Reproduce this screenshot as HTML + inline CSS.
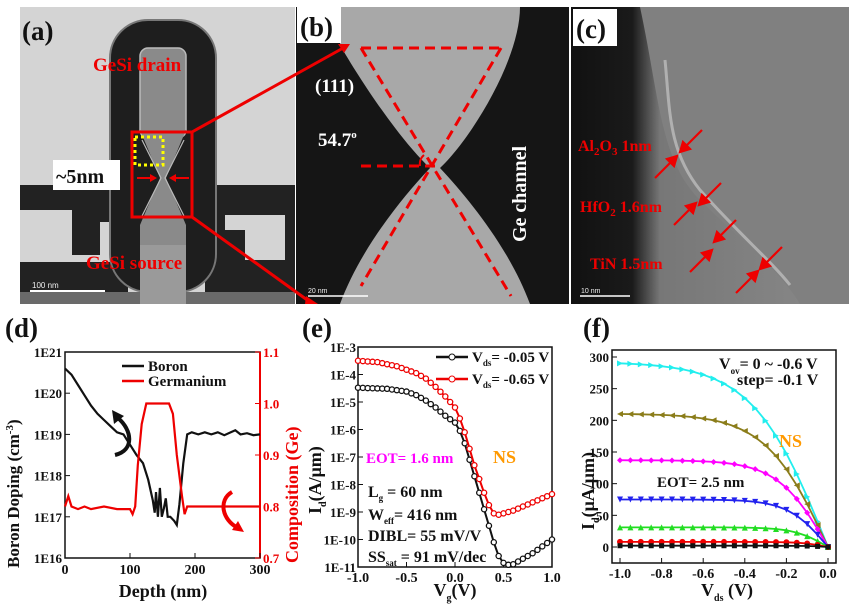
<!DOCTYPE html>
<html><head><meta charset="utf-8"><style>
html,body{margin:0;padding:0;background:#fff;}
svg{display:block;font-family:"Liberation Serif",serif;font-weight:bold;}
</style></head><body>
<svg id="s" width="849" height="604" viewBox="0 0 849 604" xmlns="http://www.w3.org/2000/svg">
<defs>
<linearGradient id="cg" x1="0" x2="1" y1="0" y2="0">
<stop offset="0" stop-color="#111"/><stop offset="0.22" stop-color="#1a1a1a"/><stop offset="0.32" stop-color="#777"/><stop offset="1" stop-color="#8a8a8a"/></linearGradient>
<clipPath id="ca"><rect x="20" y="7" width="275" height="297"/></clipPath>
<clipPath id="cb"><rect x="296" y="7" width="273" height="297"/></clipPath>
<clipPath id="cc"><rect x="571" y="7" width="278" height="297"/></clipPath>
</defs>
<!-- Panel a -->
<g clip-path="url(#ca)">
<rect x="20" y="7" width="275" height="297" fill="#d4d4d4"/>
<path d="M20 185 L128 185 L128 300 L20 300Z" fill="#222"/>
<path d="M205 185 L295 185 L295 300 L205 300Z" fill="#222"/>
<path d="M20 210 L72 210 L72 255 L100 255 L100 222 L112 222 L112 262 L20 262Z" fill="#d4d4d4"/>
<path d="M225 215 L285 215 L285 260 L245 260 L245 230 L225 230Z" fill="#d4d4d4"/>
<rect x="20" y="292" width="275" height="12" fill="#6a6a6a"/>
<rect x="110" y="20" width="106" height="272" rx="38" fill="#1e1e1e" stroke="#777" stroke-width="2"/>
<rect x="140" y="48" width="46" height="90" rx="8" fill="#8a8a8a" stroke="#bbb" stroke-width="1.5"/>
<path d="M140 130 L186 130 L166 178 L186 225 L186 304 L140 304 L140 225 L160 178 L140 130Z" fill="#8a8a8a"/>
<path d="M142 140 L161 178 L142 216 M184 140 L165 178 L184 216" stroke="#bbb" stroke-width="1.2" fill="none"/>
<rect x="140" y="245" width="46" height="60" fill="#9a9a9a"/>
<line x1="30" y1="291" x2="105" y2="291" stroke="#fff" stroke-width="2"/>
<text x="32" y="288" font-size="8" fill="#eee" font-weight="normal" font-family="Liberation Sans,sans-serif">100 nm</text>
</g>
<text x="22" y="40" font-size="27" fill="#111">(a)</text>
<text x="93" y="71" font-size="19" fill="#e00">GeSi drain</text>
<text x="86" y="269" font-size="19" fill="#e00">GeSi source</text>
<rect x="53" y="160" width="67" height="30" fill="#fff"/>
<text x="56" y="183" font-size="20" fill="#111">~5nm</text>
<rect x="135" y="137" width="28" height="28" fill="none" stroke="#ff0" stroke-width="3" stroke-dasharray="3,3"/>
<line x1="137" y1="178" x2="154" y2="178" stroke="#e00" stroke-width="2"/><path d="M157 178 L150 174 L150 182Z" fill="#e00"/>
<line x1="189" y1="178" x2="172" y2="178" stroke="#e00" stroke-width="2"/><path d="M169 178 L176 174 L176 182Z" fill="#e00"/>
<rect x="132" y="132" width="60" height="85" fill="none" stroke="#e00" stroke-width="3"/>
<!-- Panel b -->
<g clip-path="url(#cb)">
<rect x="296" y="7" width="273" height="297" fill="#a8a8a8"/>
<path d="M296 45 L340 45 C360 80 400 140 430 168 C400 200 360 250 340 304 L296 304Z" fill="#151515"/>
<path d="M569 7 L520 7 C520 60 470 140 440 168 C470 200 510 250 530 304 L569 304Z" fill="#151515"/>
<path d="M296 7 L340 7 L340 45 L296 45Z" fill="#151515"/>
<line x1="308" y1="296" x2="368" y2="296" stroke="#fff" stroke-width="1.5"/>
<text x="308" y="293" font-size="7" fill="#eee" font-weight="normal" font-family="Liberation Sans,sans-serif">20 nm</text>
</g>
<rect x="297" y="7" width="44" height="36" fill="#fff"/>
<text x="300" y="36" font-size="27" fill="#111">(b)</text>
<text x="315" y="92" font-size="19" fill="#fff">(111)</text>
<text x="318" y="146" font-size="19" fill="#fff">54.7<tspan font-size="11" dy="-8">o</tspan></text>
<text transform="translate(526,242) rotate(-90)" font-size="20" fill="#fff">Ge channel</text>
<g stroke="#e00" stroke-width="3" stroke-dasharray="10,6" fill="none">
<path d="M361 48 L501 48"/><path d="M361 48 L511 296"/><path d="M501 48 L361 286"/><path d="M361 166 L435 166"/>
</g>
<path d="M420 166 A12 12 0 0 1 424 155" stroke="#e00" stroke-width="2" fill="none"/>
<!-- Panel c -->
<g clip-path="url(#cc)">
<rect x="571" y="7" width="278" height="297" fill="url(#cg)"/>
<path d="M640 7 C660 100 660 160 700 200 C740 240 780 270 800 304 L849 304 L849 7Z" fill="#808080"/>
<path d="M665 60 C670 110 668 150 700 190 C740 235 770 260 790 285" stroke="#b0b0b0" stroke-width="3" fill="none"/>
<line x1="580" y1="296" x2="630" y2="296" stroke="#fff" stroke-width="1.5"/>
<text x="581" y="293" font-size="7" fill="#eee" font-weight="normal" font-family="Liberation Sans,sans-serif">10 nm</text>
</g>
<rect x="573" y="9" width="44" height="37" fill="#fff"/>
<text x="576" y="38" font-size="27" fill="#111">(c)</text>
<g font-size="16" fill="#e00">
<text x="578" y="151">Al<tspan font-size="11" dy="4">2</tspan><tspan dy="-4">O</tspan><tspan font-size="11" dy="4">3</tspan><tspan dy="-4"> 1nm</tspan></text>
<text x="580" y="212">HfO<tspan font-size="11" dy="4">2</tspan><tspan dy="-4"> 1.6nm</tspan></text>
<text x="590" y="269">TiN 1.5nm</text>
</g>
<g stroke="#e00" stroke-width="2.2" fill="#e00">
<line x1="702" y1="130" x2="684" y2="148"/><path d="M680 152 L683 142 L690 149Z"/>
<line x1="655" y1="178" x2="673" y2="160"/><path d="M677 156 L674 166 L667 159Z"/>
<line x1="721" y1="183" x2="703" y2="201"/><path d="M699 205 L702 195 L709 202Z"/>
<line x1="674" y1="225" x2="692" y2="207"/><path d="M696 203 L693 213 L686 206Z"/>
<line x1="736" y1="220" x2="718" y2="238"/><path d="M714 242 L717 232 L724 239Z"/>
<line x1="690" y1="272" x2="708" y2="254"/><path d="M712 250 L709 260 L702 253Z"/>
<line x1="782" y1="247" x2="764" y2="265"/><path d="M760 269 L763 259 L770 266Z"/>
<line x1="736" y1="293" x2="754" y2="275"/><path d="M758 271 L755 281 L748 274Z"/>
</g>
<g stroke="#e00" stroke-width="3"><line x1="192" y1="132" x2="345" y2="47"/><line x1="192" y1="217" x2="310" y2="302"/></g>
<path d="M350 44 L338 44 L344 53Z" fill="#e00"/>
<path d="M318 304 L306 296 L305 304Z" fill="#e00"/>
<g id="plots"></g>
</svg>
<script>
var NS="http://www.w3.org/2000/svg",G=document.getElementById("plots");
function el(t,a,txt){var e=document.createElementNS(NS,t);for(var k in a)e.setAttribute(k,a[k]);if(txt!=null)e.textContent=txt;G.appendChild(e);return e;}
function tx(x,y,s,sz,col,anc,rot){var a={x:x,y:y,"font-size":sz,fill:col||"#111","text-anchor":anc||"start"};if(rot)a.transform="rotate(-90 "+x+" "+y+")";return el("text",a,s);}
function path(pts,col,w){var d="";pts.forEach(function(p,i){d+=(i?"L":"M")+p[0].toFixed(1)+" "+p[1].toFixed(1);});return el("path",{d:d,stroke:col,"stroke-width":w||2,fill:"none"});}
// ---------- Panel d ----------
var dL=65,dR=260,dT=352,dB=558;
function dx(v){return dL+(v/300)*(dR-dL);} function dyl(l){return dB-(l-16)*(dB-dT)/5;} function dyr(c){return dB-(c-0.7)/0.4*(dB-dT);}
tx(5,337,"(d)",27);
el("rect",{x:dL,y:dT,width:dR-dL,height:dB-dT,fill:"none",stroke:"#111","stroke-width":1.5});
el("line",{x1:dR,y1:dT,x2:dR,y2:dB,stroke:"#e00","stroke-width":2});
for(var i=0;i<=5;i++){var y=dyl(16+i);el("line",{x1:dL,y1:y,x2:dL+5,y2:y,stroke:"#111"});tx(dL-3,y+5,"1E"+(16+i),13,"#111","end");}
for(i=0;i<=4;i++){var y=dyr(0.7+i*0.1);el("line",{x1:dR,y1:y,x2:dR-5,y2:y,stroke:"#e00"});tx(dR+3,y+5,(0.7+i*0.1).toFixed(1),13,"#e00");}
for(i=0;i<=3;i++){var x=dx(i*100);el("line",{x1:x,y1:dB,x2:x,y2:dB-5,stroke:"#111"});tx(x,dB+16,String(i*100),14,"#111","middle");}
tx(163,597,"Depth (nm)",18,"#111","middle");
var t=tx(19,568,"",17,"#111","start",true);t.innerHTML='Boron Doping (cm<tspan font-size="11" dy="-6">-3</tspan><tspan dy="6">)</tspan>';
tx(298,563,"Composition (Ge)",18,"#e00","start",true);
var bk=[[0,20.6],[10,20.45],[20,20.2],[30,19.95],[40,19.7],[50,19.5],[60,19.35],[70,19.2],[80,19.05],[90,19.0],[100,18.75],[110,18.5],[120,18.3],[128,17.9],[135,17.4],[138,17.1],[140,17.6],[143,17.0],[146,17.7],[149,17.0],[152,17.2],[155,17.45],[158,17.0],[162,17.0],[168,16.9],[172,16.8],[176,17.3],[182,18.3],[188,19.0],[195,19.05],[205,19.0],[215,19.05],[225,19.0],[235,19.05],[245,18.98],[255,19.05],[262,19.1],[270,19.0],[280,19.03],[290,18.98],[300,19.0]];
path(bk.map(function(p){return [dx(p[0]),dyl(p[1])];}),"#111",2.2);
var ge=[[0,0.80],[5,0.82],[10,0.80],[20,0.795],[30,0.80],[40,0.795],[60,0.80],[80,0.795],[100,0.795],[104,0.785],[108,0.80],[112,0.88],[118,0.96],[125,1.0],[160,1.0],[166,0.98],[172,0.9],[180,0.82],[184,0.785],[188,0.80],[200,0.80],[240,0.80],[300,0.80]];
path(ge.map(function(p){return [dx(p[0]),dyr(p[1])];}),"#e00",2.2);
el("line",{x1:122,y1:366,x2:144,y2:366,stroke:"#111","stroke-width":2.5});tx(148,371,"Boron",15);
el("line",{x1:122,y1:381,x2:144,y2:381,stroke:"#e00","stroke-width":2.5});tx(148,386,"Germanium",15);
el("path",{d:"M115 455 C135 450 132 430 118 418",stroke:"#111","stroke-width":4,fill:"none"});el("path",{d:"M112 410 L124 416 L114 424Z",fill:"#111"});
el("path",{d:"M232 492 C218 500 222 520 238 528",stroke:"#e00","stroke-width":4,fill:"none"});el("path",{d:"M244 532 L232 530 L238 521Z",fill:"#e00"});
// ---------- Panel e ----------
var eL=358,eR=552,eT=347,eB=567;
function ex(v){return eL+(v+1)/2*(eR-eL);} function ey(l){return eB-(l+11)*(eB-eT)/8;}
tx(302,337,"(e)",27);
el("rect",{x:eL,y:eT,width:eR-eL,height:eB-eT,fill:"none",stroke:"#111","stroke-width":1.5});
for(i=0;i<=8;i++){var y=ey(-11+i);el("line",{x1:eL,y1:y,x2:eL+5,y2:y,stroke:"#111"});tx(eL-2,y+5,"1E"+(-11+i),13,"#111","end");}
[-1,-0.5,0,0.5,1].forEach(function(v){var x=ex(v);el("line",{x1:x,y1:eB,x2:x,y2:eB-5,stroke:"#111"});tx(x,eB+15,v.toFixed(1),14,"#111","middle");});
t=tx(455,596,"",18,"#111","middle");t.innerHTML='V<tspan font-size="10" dy="5">g</tspan><tspan dy="-5">(V)</tspan>';
t=tx(321,514,"",18,"#111","start",true);t.innerHTML='I<tspan font-size="10" dy="5">d</tspan><tspan dy="-5">(A/μm)</tspan>';
function interp(tab,v){for(var k=0;k<tab.length-1;k++){if(v<=tab[k+1][0]){var f=(v-tab[k][0])/(tab[k+1][0]-tab[k][0]);return tab[k][1]+f*(tab[k+1][1]-tab[k][1]);}}return tab[tab.length-1][1];}
var blk=[[-1,-4.48],[-0.7,-4.52],[-0.5,-4.62],[-0.4,-4.75],[-0.3,-4.95],[-0.2,-5.2],[-0.1,-5.5],[0,-5.75],[0.05,-6.05],[0.1,-6.5],[0.15,-7.1],[0.2,-7.7],[0.25,-8.3],[0.3,-8.9],[0.35,-9.5],[0.4,-10.1],[0.45,-10.6],[0.5,-10.85],[0.55,-10.92],[0.6,-10.9],[0.7,-10.7],[0.8,-10.5],[0.9,-10.25],[1.0,-10.0]];
var red=[[-1,-3.5],[-0.8,-3.55],[-0.6,-3.7],[-0.4,-3.95],[-0.3,-4.15],[-0.2,-4.45],[-0.1,-4.8],[0,-5.2],[0.05,-5.6],[0.1,-6.1],[0.15,-6.7],[0.2,-7.3],[0.25,-7.8],[0.3,-8.3],[0.35,-8.75],[0.4,-9.05],[0.45,-9.1],[0.5,-9.05],[0.6,-8.95],[0.7,-8.8],[0.8,-8.65],[0.9,-8.5],[1.0,-8.35]];
[[blk,"#111"],[red,"#e00"]].forEach(function(s){var pts=[];for(var v=-1;v<=1.001;v+=0.05)pts.push([ex(v),ey(interp(s[0],v))]);path(pts,s[1],2);pts.forEach(function(p){el("circle",{cx:p[0],cy:p[1],r:2.6,fill:"#fff",stroke:s[1],"stroke-width":1.3});});});
el("line",{x1:436,y1:357,x2:468,y2:357,stroke:"#111","stroke-width":2.5});el("circle",{cx:452,cy:357,r:3,fill:"#fff",stroke:"#111"});
t=tx(472,362,"",15);t.innerHTML='V<tspan font-size="9" dy="4">ds</tspan><tspan dy="-4">= -0.05 V</tspan>';
el("line",{x1:436,y1:379,x2:468,y2:379,stroke:"#e00","stroke-width":2.5});el("circle",{cx:452,cy:379,r:3,fill:"#fff",stroke:"#e00"});
t=tx(472,384,"",15);t.innerHTML='V<tspan font-size="9" dy="4">ds</tspan><tspan dy="-4">= -0.65 V</tspan>';
tx(366,463,"EOT= 1.6 nm",15,"#f0f");tx(493,463,"NS",18,"#f90");
t=tx(368,497,"",16);t.innerHTML='L<tspan font-size="9" dy="4">g</tspan><tspan dy="-4"> = 60 nm</tspan>';
t=tx(368,520,"",16);t.innerHTML='W<tspan font-size="9" dy="4">eff</tspan><tspan dy="-4">= 416 nm</tspan>';
tx(368,541,"DIBL= 55 mV/V",16);
t=tx(368,562,"",16);t.innerHTML='SS<tspan font-size="9" dy="4">sat</tspan><tspan dy="-4"> = 91 mV/dec</tspan>';
// ---------- Panel f ----------
var fT=350,fB=563,fL=612,fR=836;
function fx(v){return 620+(v+1)*208;} function fy(i){return 547-i*(190/300);}
tx(583,337,"(f)",27);
el("rect",{x:fL,y:fT,width:fR-fL,height:fB-fT,fill:"none",stroke:"#111","stroke-width":1.5});
for(i=0;i<=6;i++){var y=fy(i*50);el("line",{x1:fL,y1:y,x2:fL+5,y2:y,stroke:"#111"});tx(fL-3,y+5,String(i*50),13,"#111","end");}
[-1,-0.8,-0.6,-0.4,-0.2,0].forEach(function(v){var x=fx(v);el("line",{x1:x,y1:fB,x2:x,y2:fB-5,stroke:"#111"});tx(x,fB+15,v.toFixed(1),14,"#111","middle");});
t=tx(727,596,"",18,"#111","middle");t.innerHTML='V<tspan font-size="10" dy="5">ds</tspan><tspan dy="-5"> (V)</tspan>';
t=tx(594,530,"",18,"#111","start",true);t.innerHTML='I<tspan font-size="10" dy="5">d</tspan><tspan dy="-5">(μA/μm)</tspan>';
var sers=[[290,0.36,"#2ee","rt"],[210,0.30,"#8b7d1a","lt"],[137,0.24,"#f0f","di"],[75,0.19,"#22e","dn"],[31,0.16,"#2d2","up"],[8,0.12,"#e00","ci"],[2,0.1,"#111","sq"]];
sers.forEach(function(s){var pts=[];var n=Math.tanh(1/s[1]);for(var v=-1;v<=0.0001;v+=0.05){var a=-v;pts.push([fx(v),fy(s[0]*Math.tanh(a/s[1])/n)]);}
path(pts,s[2],1.8);
pts.forEach(function(p){var x=p[0],y=p[1],r=3,d;
if(s[3]=="rt")d="M"+(x+r)+" "+y+"L"+(x-r)+" "+(y-r)+"L"+(x-r)+" "+(y+r)+"Z";
else if(s[3]=="lt")d="M"+(x-r)+" "+y+"L"+(x+r)+" "+(y-r)+"L"+(x+r)+" "+(y+r)+"Z";
else if(s[3]=="dn")d="M"+x+" "+(y+r)+"L"+(x-r)+" "+(y-r)+"L"+(x+r)+" "+(y-r)+"Z";
else if(s[3]=="up")d="M"+x+" "+(y-r)+"L"+(x-r)+" "+(y+r)+"L"+(x+r)+" "+(y+r)+"Z";
else if(s[3]=="di")d="M"+x+" "+(y-r)+"L"+(x+r)+" "+y+"L"+x+" "+(y+r)+"L"+(x-r)+" "+y+"Z";
else if(s[3]=="sq")d="M"+(x-2.5)+" "+(y-2.5)+"h5v5h-5Z";
else d="M"+(x-3)+" "+y+"a3 3 0 1 0 6 0a3 3 0 1 0 -6 0";
el("path",{d:d,fill:s[2]});});});
t=tx(719,369,"",16);t.innerHTML='V<tspan font-size="9" dy="5">ov</tspan><tspan dy="-5">= 0 ~ -0.6 V</tspan>';
tx(737,385,"step= -0.1 V",16);
tx(779,447,"NS",18,"#f90");
tx(657,487,"EOT= 2.5 nm",15);
</script>
</body></html>
